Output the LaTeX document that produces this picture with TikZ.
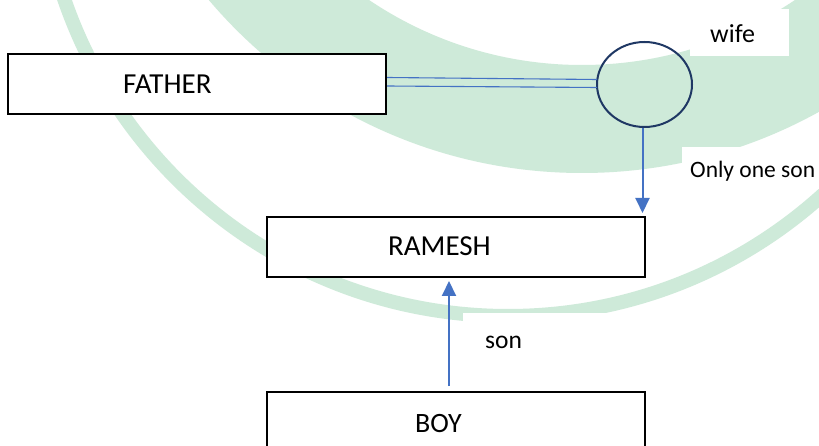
\documentclass[tikz,border=0pt]{standalone}
\usepackage{fontspec}
\setmainfont{Carlito}
\usetikzlibrary{arrows.meta,calc,shapes.geometric}
\definecolor{wmgreen}{RGB}{206,234,217}
\definecolor{linkblue}{RGB}{68,114,196}
\definecolor{navy}{RGB}{31,56,100}
\tikzset{
  person/.style={draw=black,line width=2pt,fill=white,minimum width=378pt,minimum height=60pt,inner sep=0pt},
  bigtext/.style={font=\fontsize{29}{33}\selectfont,inner sep=0pt,anchor=base west},
  lbl/.style={inner sep=0pt,anchor=base west},
  arr/.style={draw=linkblue,line width=2pt,-{Triangle[length=15pt,width=14pt]}},
  thinlink/.style={draw=linkblue,line width=1.1pt},
  whitepatch/.style={fill=white,draw=none}
}
\begin{document}
\begin{tikzpicture}[x=1pt,y=-1pt]
\useasboundingbox (0,0) rectangle (819,446);
\fill[white] (0,0) rectangle (819,446);
% watermark (pale background)
\begin{scope}
\clip (0,0) rectangle (819,446);
\fill[wmgreen,even odd rule] (582,-316) circle[radius=489pt] (582,-316) circle[radius=381pt];
\fill[wmgreen,even odd rule] (508,-153) circle[radius=476pt] (508,-153) circle[radius=462pt];
\fill[whitepatch] (463,313) rectangle (670,446);
\fill[whitepatch] (682,147) rectangle (819,189);
\fill[whitepatch] (690,9) rectangle (789,56);
\end{scope}
% boxes
\node[person] (father) at (197,84) {};
\node[bigtext] (fathertxt) at (123,94) {FATHER};
\node[person] (ramesh) at (456,247) {};
\node[bigtext] (rameshtxt) at (388,256) {RAMESH};
\node[person,minimum height=68pt] (boy) at (456,426) {};
\node[bigtext,font=\fontsize{28}{32}\selectfont] (boytxt) at (415,432) {BOY};
% wife circle
\node[ellipse,draw=navy,line width=2pt,minimum width=95pt,minimum height=85pt,inner sep=0pt] (wife) at (644.5,84.5) {};
\node[lbl,font=\fontsize{26}{30}\selectfont] (wifetxt) at (710,43) {wife};
% double link father -- wife
\draw[thinlink] ($(father.east)+(0,-6.5)$) -- ($(wife.west)+(1,-5)$);
\draw[thinlink] ($(father.east)+(0,2)$) -- ($(wife.west)+(1,3)$);
% only one son
\coordinate (ws) at ($(wife.south)+(-2,0)$);
\draw[arr,shorten >=3pt] (ws) -- (ws |- ramesh.north);
\node[lbl,font=\fontsize{23.5}{28}\selectfont] (onlytxt) at (690,178) {Only one son};
% son arrow
\coordinate (bs) at ($(boy.north)+(-7,0)$);
\draw[arr,shorten <=5pt,shorten >=3pt] (bs) -- (bs |- ramesh.south);
\node[lbl,font=\fontsize{25.5}{30}\selectfont] (sontxt) at (485,348) {son};
\end{tikzpicture}
\end{document}
